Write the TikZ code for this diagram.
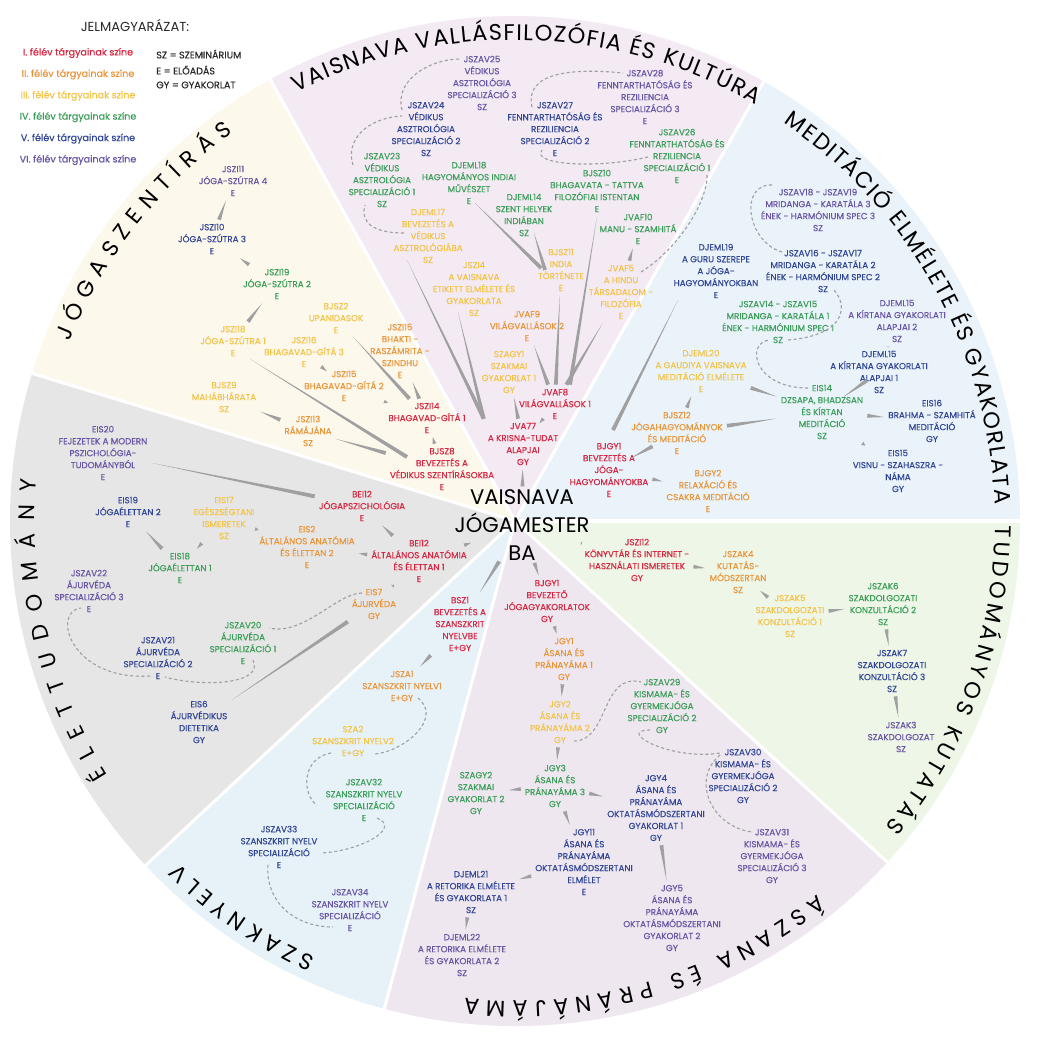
\documentclass[tikz,border=0pt]{standalone}
\usepackage{fontspec}
\setmainfont{Poppins}
\newfontfamily\lblfam{Poppins}[FakeBold=0.4]
\usepackage{tikz}
\usetikzlibrary{calc,decorations.text,shapes.geometric}

% semester colours
\definecolor{c1}{RGB}{214,40,66}
\definecolor{c2}{RGB}{232,150,60}
\definecolor{c3}{RGB}{242,196,74}
\definecolor{c4}{RGB}{60,158,90}
\definecolor{c5}{RGB}{50,70,150}
\definecolor{c6}{RGB}{105,85,165}
\definecolor{legtext}{RGB}{40,40,40}
\definecolor{linkgray}{RGB}{160,160,160}
% sector colours
\definecolor{pieLife}{RGB}{230,230,230}
\definecolor{pieScript}{RGB}{253,248,236}
\definecolor{pieVais}{RGB}{243,234,243}
\definecolor{pieMed}{RGB}{234,243,250}
\definecolor{pieSci}{RGB}{238,246,232}
\definecolor{pieAsana}{RGB}{238,231,239}
\definecolor{pieLang}{RGB}{230,242,247}

\newcommand{\lblfont}{\lblfam\fontsize{6.2}{8.5}\selectfont}
\newcommand{\legfont}{\lblfam\fontsize{6.8}{8}\selectfont}
\newcommand{\titlefont}{\fontsize{16}{16}\selectfont}
\newcommand{\progfont}{\fontsize{15}{20}\selectfont}

% tapered prerequisite link, thick end at the second node
\newcommand{\prereq}[2]{%
  \path (#1) -- (#2) coordinate[pos=0] (pA) coordinate[pos=1] (pB);
  \fill[link] (pA) -- ($(pB)!1.4pt!90:(pA)$) -- ($(pB)!1.4pt!-90:(pA)$) -- cycle;}

\begin{document}
\begin{tikzpicture}[
    x=0.25mm, y=0.25mm,
    lbl/.style={align=center, font=\lblfont, inner sep=1pt, outer sep=2pt},
    f1/.style={lbl, text=c1},
    f2/.style={lbl, text=c2},
    f3/.style={lbl, text=c3},
    f4/.style={lbl, text=c4},
    f5/.style={lbl, text=c5},
    f6/.style={lbl, text=c6},
    link/.style={fill=linkgray},
    specline/.style={draw=linkgray, line width=0.8pt, dash pattern=on 2.2pt off 1.8pt},
    rim/.style={draw=white, line width=2.2pt},
    arctitle/.style={decorate, decoration={text along path, text align={fit to path}, text={|\titlefont|#1}}},
    prog/.style={ellipse, align=center, font=\progfont, inner xsep=-14pt, inner ysep=-6pt},
    legkey/.style={font=\legfont, text=legtext, anchor=west, inner sep=0pt}
]
\useasboundingbox (0,0) rectangle (1042,-1042);
\fill[white] (0,0) rectangle (1042,-1042);

% Sectors
\coordinate (hub) at (515,-521);
\foreach \col/\a/\b in {pieLife/163/223, pieScript/119/163, pieVais/60.5/119, pieMed/0/60.5,
                        pieSci/-42.5/0, pieAsana/-105/-42.5, pieLang/-137/-105}
  \fill[\col] (hub) -- ($(hub)+(\a:505)$) arc[start angle=\a, end angle=\b, radius=505] -- cycle;
\foreach \a in {163,119,60.5,0,-42.5,-105,-137}
  \draw[rim] (hub) -- ($(hub)+(\a:507)$);

% Sector titles
\path[arctitle={JÓGASZENTÍRÁS}] ($(hub)+(158:480)$) arc[start angle=158, end angle=126, radius=480];
\path[arctitle={VAISNAVA VALLÁSFILOZÓFIA ÉS KULTÚRA}] ($(hub)+(117:481)$) arc[start angle=117, end angle=60, radius=481];
\path[arctitle={MEDITÁCIÓ ELMÉLETE ÉS GYAKORLATA}] ($(hub)+(56:480)$) arc[start angle=56, end angle=2, radius=480];
\path[arctitle={TUDOMÁNYOS KUTATÁS}] ($(hub)+(-0.5:480)$) arc[start angle=-0.5, end angle=-39.5, radius=480];
\path[arctitle={ÁSZANA ÉS PRÁNÁJÁMA}] ($(hub)+(-51:480)$) arc[start angle=-51, end angle=-96, radius=480];
\path[arctitle={SZAKNYELV}] ($(hub)+(-114.5:480)$) arc[start angle=-114.5, end angle=-134.5, radius=480];
\path[arctitle={ÉLETTUDOMÁNY}] ($(hub)+(212:480)$) arc[start angle=212, end angle=175, radius=480];

% Legend
\node[font=\fontsize{9.3}{11}\selectfont, text=legtext] (legend) at (135,-25) {JELMAGYARÁZAT:};
\foreach \n/\c [count=\i] in {I./c1, II./c2, III./c3, IV./c4, V./c5, VI./c6}
  \node[font=\legfont, text=\c] (leg\i) at (78,{-53-21.4*(\i-1)}) {\n\ félév tárgyainak színe};
\node[legkey] (keySZ) at (156,-54) {SZ = SZEMINÁRIUM};
\node[legkey] (keyE) at (156,-70) {E = ELŐADÁS};
\node[legkey] (keyGY) at (156,-85) {GY = GYAKORLAT};

% Centre
\node[prog] (prog) at (522,-525) {VAISNAVA\\JÓGAMESTER\\BA};

% Jógaszentírás
\node[f6] (jszi11) at (233,-181) {JSZI11\\JÓGA-SZÚTRA 4\\E};
\node[f5] (jszi10) at (212,-239) {JSZI10\\JÓGA-SZÚTRA 3\\E};
\node[f4] (jszi19) at (277,-284) {JSZI19\\JÓGA-SZÚTRA 2\\E};
\node[f3] (jszi18) at (233,-341) {JSZI18\\JÓGA-SZÚTRA 1\\E};
\node[f3] (bjsz2) at (336,-318) {BJSZ2\\UPANIDASOK\\E};
\node[f3] (jszi16) at (304,-352) {JSZI16\\BHAGAVAD-GÍTÁ 3\\E};
\node[f2] (jszi15a) at (400,-351) {JSZI15\\BHAKTI -\\RASZÁMRITA -\\SZINDHU\\E};
\node[f2] (jszi15b) at (344,-386) {JSZI15\\BHAGAVAD-GÍTÁ 2\\E};
\node[f3] (bjsz9) at (224,-397) {BJSZ9\\MAHÁBHÁRATA\\SZ};
\node[f2] (jszi13) at (308,-431) {JSZI13\\RÁMÁJÁNA\\SZ};
\node[f1] (jszi14) at (427,-418) {JSZI14\\BHAGAVAD-GÍTÁ 1\\E};
\node[f1] (bjsz8) at (442,-469) {BJSZ8\\BEVEZETÉS A\\VÉDIKUS SZENTÍRÁSOKBA\\E};

% Vaisnava vallásfilozófia
\node[f6] (jszav25) at (482,-83) {JSZAV25\\VÉDIKUS\\ASZTROLÓGIA\\SPECIALIZÁCIÓ 3\\SZ};
\node[f5] (jszav24) at (426,-129) {JSZAV24\\VÉDIKUS\\ASZTROLÓGIA\\SPECIALIZÁCIÓ 2\\SZ};
\node[f4] (jszav23) at (382,-180) {JSZAV23\\VÉDIKUS\\ASZTROLÓGIA\\SPECIALIZÁCIÓ 1\\SZ};
\node[f6] (jszav28) at (645,-97) {JSZAV28\\FENNTARTHATÓSÁG ÉS\\REZILIENCIA\\SPECIALIZÁCIÓ 3\\E};
\node[f5] (jszav27) at (555,-129) {JSZAV27\\FENNTARTHATÓSÁG ÉS\\REZILIENCIA\\SPECIALIZÁCIÓ 2\\E};
\node[f4] (jszav26) at (677,-156) {JSZAV26\\FENNTARTHATÓSÁG ÉS\\REZILIENCIA\\SPECIALIZÁCIÓ 1\\E};
\node[f4] (djeml18) at (469,-183) {DJEML18\\HAGYOMÁNYOS INDIAI\\MŰVÉSZET\\E};
\node[f4] (bjsz10) at (597,-191) {BJSZ10\\BHAGAVATA - TATTVA\\FILOZÓFIAI ISTENTAN\\E};
\node[f4] (djeml14) at (524,-215) {DJEML14\\SZENT HELYEK\\INDIÁBAN\\SZ};
\node[f4] (jvaf10) at (638,-229) {JVAF10\\MANU - SZAMHITÁ\\E};
\node[f3] (djeml17) at (428,-236) {DJEML17\\BEVEZETÉS A\\VÉDIKUS\\ASZTROLÓGIÁBA\\SZ};
\node[f3] (bjsz11) at (561,-270) {BJSZ11\\INDIA\\TÖRTÉNETE\\E};
\node[f3] (jvaf5) at (621,-292) {JVAF5\\A HINDU\\TÁRSADALOM -\\FILOZÓFIA\\E};
\node[f3] (jszi4) at (474,-289) {JSZI4\\A VAISNAVA\\ETIKETT ELMÉLETE ÉS\\GYAKORLATA\\SZ};
\node[f2] (jvaf9) at (527,-326) {JVAF9\\VILÁGVALLÁSOK 2\\E};
\node[f3] (szagy1) at (509,-372) {SZAGY1\\SZAKMAI\\GYAKORLAT 1\\GY};
\node[f1] (jvaf8) at (555,-404) {JVAF8\\VILÁGVALLÁSOK 1\\E};
\node[f1] (jva77) at (523,-444) {JVA77\\A KRISNA-TUDAT\\ALAPJAI\\GY};

% Meditáció
\node[f6] (jszav18) at (818,-210) {JSZAV18 - JSZAV19\\MRIDANGA - KARATÁLA 3\\ÉNEK - HARMÓNIUM SPEC 3\\SZ};
\node[f5] (jszav16) at (823,-271) {JSZAV16 - JSZAV17\\MRIDANGA - KARATÁLA 2\\ÉNEK - HARMÓNIUM SPEC 2\\SZ};
\node[f4] (jszav14) at (778,-322) {JSZAV14 - JSZAV15\\MRIDANGA - KARATÁLA 1\\ÉNEK - HARMÓNIUM SPEC 1\\SZ};
\node[f5] (djeml19) at (716,-271) {DJEML19\\A GURU SZEREPE\\A JÓGA-\\HAGYOMÁNYOKBAN\\E};
\node[f6] (djeml15b) at (897,-321) {DJEML15\\A KÍRTANA GYAKORLATI\\ALAPJAI 2\\SZ};
\node[f5] (djeml15a) at (879,-372) {DJEML15\\A KÍRTANA GYAKORLATI\\ALAPJAI 1\\SZ};
\node[f3] (djeml20) at (701,-371) {DJEML20\\A GAUDIYA VAISNAVA\\MEDITÁCIÓ ELMÉLETE\\E};
\node[f4] (eis14) at (822,-412) {EIS14\\DZSAPA, BHADZSAN\\ÉS KÍRTAN\\MEDITÁCIÓ\\SZ};
\node[f5] (eis16) at (932,-421) {EIS16\\BRAHMA - SZAMHITÁ\\MEDITÁCIÓ\\GY};
\node[f5] (eis15) at (898,-471) {EIS15\\VISNU - SZAHASZRA -\\NÁMA\\GY};
\node[f2] (bjsz12) at (677,-433) {BJSZ12\\JÓGAHAGYOMÁNYOK\\ÉS MEDITÁCIÓ\\E};
\node[f1] (bjgy1) at (609,-470) {BJGY1\\BEVEZETÉS A\\JÓGA-\\HAGYOMÁNYOKBA\\E};
\node[f2] (bjgy2) at (708,-491) {BJGY2\\RELAXÁCIÓ ÉS\\CSAKRA MEDITÁCIÓ\\E};

% Tudományos kutatás
\node[f1] (jszi12) at (637,-560) {JSZI12\\KÖNYVTÁR ÉS INTERNET -\\HASZNÁLATI ISMERETEK\\GY};
\node[f2] (jszak4) at (738,-572) {JSZAK4\\KUTATÁS-\\MÓDSZERTAN\\SZ};
\node[f3] (jszak5) at (790,-616) {JSZAK5\\SZAKDOLGOZATI\\KONZULTÁCIÓ 1\\SZ};
\node[f4] (jszak6) at (883,-604) {JSZAK6\\SZAKDOLGOZATI\\KONZULTÁCIÓ 2\\SZ};
\node[f5] (jszak7) at (892,-671) {JSZAK7\\SZAKDOLGOZATI\\KONZULTÁCIÓ 3\\SZ};
\node[f6] (jszak3) at (901,-737) {JSZAK3\\SZAKDOLGOZAT\\SZ};

% Ászana és pránájáma
\node[f1] (bjgy1b) at (547,-601) {BJGY1\\BEVEZETŐ\\JÓGAGYAKORLATOK\\GY};
\node[f2] (jgy1) at (564,-659) {JGY1\\ÁSANA ÉS\\PRÁNAYÁMA 1\\GY};
\node[f3] (jgy2) at (560,-722) {JGY2\\ÁSANA ÉS\\PRÁNAYÁMA 2\\GY};
\node[f4] (jszav29) at (662,-706) {JSZAV29\\KISMAMA- ÉS\\GYERMEKJÓGA\\SPECIALIZÁCIÓ 2\\GY};
\node[f4] (jgy3) at (555,-786) {JGY3\\ÁSANA ÉS\\PRÁNAYÁMA 3\\GY};
\node[f4] (szagy2) at (476,-793) {SZAGY2\\SZAKMAI\\GYAKORLAT 2\\GY};
\node[f5] (jgy4) at (656,-808) {JGY4\\ÁSANA ÉS\\PRÁNAYÁMA\\OKTATÁSMÓDSZERTANI\\GYAKORLAT 1\\GY};
\node[f5] (jszav30) at (743,-776) {JSZAV30\\KISMAMA- ÉS\\GYERMEKJÓGA\\SPECIALIZÁCIÓ 2\\GY};
\node[f6] (jszav31) at (772,-856) {JSZAV31\\KISMAMA- ÉS\\GYERMEKJÓGA\\SPECIALIZÁCIÓ 3\\GY};
\node[f5] (jgy11) at (584,-862) {JGY11\\ÁSANA ÉS\\PRÁNAYÁMA\\OKTATÁSMÓDSZERTANI\\ELMÉLET\\E};
\node[f6] (jgy5) at (672,-918) {JGY5\\ÁSANA ÉS\\PRÁNAYÁMA\\OKTATÁSMÓDSZERTANI\\GYAKORLAT 2\\GY};
\node[f5] (djeml21) at (471,-892) {DJEML21\\A RETORIKA ELMÉLETE\\ÉS GYAKORLATA 1\\SZ};
\node[f6] (djeml22) at (462,-955) {DJEML22\\A RETORIKA ELMÉLETE\\ÉS GYAKORLATA 2\\SZ};

% Szaknyelv
\node[f1] (bsz1) at (460,-624) {BSZ1\\BEVEZETÉS A\\SZANSZKRIT\\NYELVBE\\E+GY};
\node[f2] (jsza1) at (402,-686) {JSZA1\\SZANSZKRIT NYELV1\\E+GY};
\node[f3] (sza2) at (353,-741) {SZA2\\SZANSZKRIT NYELV2\\E+GY};
\node[f4] (jszav32) at (364,-800) {JSZAV32\\SZANSZKRIT NYELV\\SPECIALIZÁCIÓ\\E};
\node[f5] (jszav33) at (279,-847) {JSZAV33\\SZANSZKRIT NYELV\\SPECIALIZÁCIÓ\\E};
\node[f6] (jszav34) at (350,-910) {JSZAV34\\SZANSZKRIT NYELV\\SPECIALIZÁCIÓ\\E};

% Élettudomány
\node[f6] (eis20) at (103,-453) {EIS20\\FEJEZETEK A MODERN\\PSZICHOLÓGIA-\\TUDOMÁNYBÓL\\E};
\node[f5] (eis19) at (128,-512) {EIS19\\JÓGAÉLETTAN 2\\E};
\node[f3] (eis17) at (224,-518) {EIS17\\EGÉSZSÉGTANI\\ISMERETEK\\SZ};
\node[f4] (eis18) at (180,-568) {EIS18\\JÓGAÉLETTAN 1\\E};
\node[f2] (eis2) at (307,-547) {EIS2\\ÁLTALÁNOS ANATÓMIA\\ÉS ÉLETTAN 2\\E};
\node[f1] (beipsz) at (362,-506) {BEI12\\JÓGAPSZICHOLÓGIA\\E};
\node[f1] (beian) at (419,-561) {BEI12\\ÁLTALÁNOS ANATÓMIA\\ÉS ÉLETTAN 1\\E};
\node[f2] (eis7) at (374,-604) {EIS7\\ÁJURVÉDA\\GY};
\node[f6] (jszav22) at (89,-591) {JSZAV22\\ÁJURVÉDA\\SPECIALIZÁCIÓ 3\\E};
\node[f4] (jszav20) at (243,-643) {JSZAV20\\ÁJURVÉDA\\SPECIALIZÁCIÓ 1\\E};
\node[f5] (jszav21) at (158,-658) {JSZAV21\\ÁJURVÉDA\\SPECIALIZÁCIÓ 2\\E};
\node[f5] (eis6) at (199,-722) {EIS6\\ÁJURVÉDIKUS\\DIETETIKA\\GY};

% Prerequisite links
\prereq{jszi11}{jszi10}
\prereq{jszi10}{jszi19}
\prereq{jszi19}{jszi18}
\prereq{$(jszi18)+(17,-18)$}{$(bjsz8)+(-35,12)$}
\prereq{bjsz2}{jszi14}
\prereq{jszi16}{jszi15b}
\prereq{jszi15a}{jszi14}
\prereq{jszi15b}{jszi14}
\prereq{bjsz9}{jszi13}
\prereq{jszi13}{bjsz8}
\prereq{jszi14}{bjsz8}
\prereq{bjsz8}{prog}

\prereq{$(djeml18)+(6,-20)$}{$(bjsz11)+(-20,2)$}
\prereq{$(djeml14)+(10,-18)$}{$(bjsz11)+(-16,0)$}
\prereq{bjsz10.south}{$(jvaf8.north)+(15,0)$}
\prereq{jvaf10}{jvaf5}
\prereq{bjsz11}{jvaf8}
\prereq{jvaf5}{jvaf8}
\prereq{jvaf9}{jvaf8}
\prereq{jvaf8}{jva77}
\prereq{$(djeml17)+(-21,-24)$}{jva77.north west}
\prereq{$(jszi4)+(-16,-23)$}{jva77.north west}
\prereq{szagy1}{jva77}
\prereq{jva77}{prog}

\prereq{$(djeml19)+(-38,-29)$}{$(bjgy1)+(4,40)$}
\prereq{djeml20}{bjsz12}
\prereq{eis14}{djeml20}
\prereq{eis14}{bjsz12}
\prereq{bjsz12}{bjgy1}
\prereq{bjgy2}{bjgy1}
\prereq{bjgy1}{prog}
\prereq{djeml15b}{djeml15a}
\prereq{djeml15a}{eis14}
\prereq{eis16}{eis14}
\prereq{eis15}{eis14}

\prereq{jszi12}{prog}
\prereq{jszak4}{jszi12}
\prereq{jszak5}{jszak4}
\prereq{jszak6}{jszak5}
\prereq{jszak7}{jszak6}
\prereq{jszak3}{jszak7}

\prereq{bjgy1b}{prog}
\prereq{jgy1}{bjgy1b}
\prereq{jgy2}{jgy1}
\prereq{jgy3}{jgy2}
\prereq{szagy2}{jgy3}
\prereq{jgy4}{jgy3}
\prereq{jgy11}{jgy3}
\prereq{jgy5}{jgy4}
\prereq{djeml21}{jgy11}
\prereq{djeml22}{djeml21}

\prereq{bsz1}{prog}
\prereq{jsza1}{bsz1}

\prereq{eis20}{beipsz}
\prereq{eis19}{eis18}
\prereq{eis18}{eis17}
\prereq{eis17}{eis2}
\prereq{eis2}{beian}
\prereq{beipsz}{beian}
\prereq{beian}{prog}
\prereq{eis7}{beian}
\prereq{eis6}{eis7}

% Specialisation chains
\draw[specline] ($(djeml17)+(-24,3)$) .. controls +(-30,0) and +(-5,-18) .. ($(jszav23)+(-17,-25)$);
\draw[specline] ($(jszav23)+(-29,15)$) .. controls +(-8,25) and +(-35,-2) .. ($(jszav24)+(-24,13)$);
\draw[specline] ($(jszav24)+(-24,19)$) .. controls +(-8,30) and +(-30,0) .. ($(jszav25)+(-22,24)$);
\draw[specline] ($(jszav26)+(-29,-1)$) .. controls +(-50,-12) and +(-12,-15) .. ($(jszav27)+(-13,-21)$);
\draw[specline] ($(jszav27)+(-23,22)$) .. controls +(-8,35) and +(-50,5) .. ($(jszav28)+(-22,24)$);
\draw[specline] ($(jvaf5)+(20,20)$) .. controls +(40,25) and +(2,-25) .. ($(jszav26)+(30,-17)$);

\draw[specline] ($(eis14)+(-14,24)$) .. controls +(-55,0) and +(-25,-2) .. ($(jszav14)+(-8,-18)$);
\draw[specline] ($(jszav14)+(10,-18)$) .. controls +(60,5) and +(15,-15) .. ($(jszav16)+(10,-18)$);
\draw[specline] ($(jszav16)+(-41,19)$) .. controls +(-35,10) and +(-35,2) .. ($(jszav18)+(-45,25)$);

\draw[specline] ($(jgy2)+(14,-19)$) .. controls +(35,0) and +(-40,10) .. ($(jszav29)+(-21,24)$);
\draw[specline] ($(jszav29)+(-12,-24)$) .. controls +(-35,0) and +(-50,-8) .. ($(jszav30)+(-23,23)$);
\draw[specline] ($(jszav30)+(-23,21)$) .. controls +(-30,-25) and +(-40,5) .. ($(jszav31)+(-20,24)$);

\draw[specline] ($(jsza1)+(16,-12)$) .. controls +(25,-20) and +(30,3) .. ($(sza2)+(22,-13)$);
\draw[specline] ($(sza2)+(-22,-12)$) .. controls +(-30,-5) and +(-15,10) .. ($(jszav32)+(-47,-5)$);
\draw[specline] ($(jszav32)+(13,-18)$) .. controls +(25,-10) and +(40,2) .. ($(jszav33)+(42,-6)$);
\draw[specline] ($(jszav33)+(-11,-18)$) .. controls +(-3,-35) and +(-40,0) .. ($(jszav34)+(-17,-17)$);

\draw[specline] ($(eis7)+(-12,11)$) .. controls +(-25,0) and +(35,-8) .. ($(jszav20)+(26,15)$);
\draw[specline] ($(jszav20)+(10,-17)$) .. controls +(12,-25) and +(35,-10) .. ($(jszav21)+(7,-19)$);
\draw[specline] ($(jszav21)+(-8,-18)$) .. controls +(-80,-5) and +(-30,-3) .. ($(jszav22)+(-8,-17)$);

\end{tikzpicture}
\end{document}
